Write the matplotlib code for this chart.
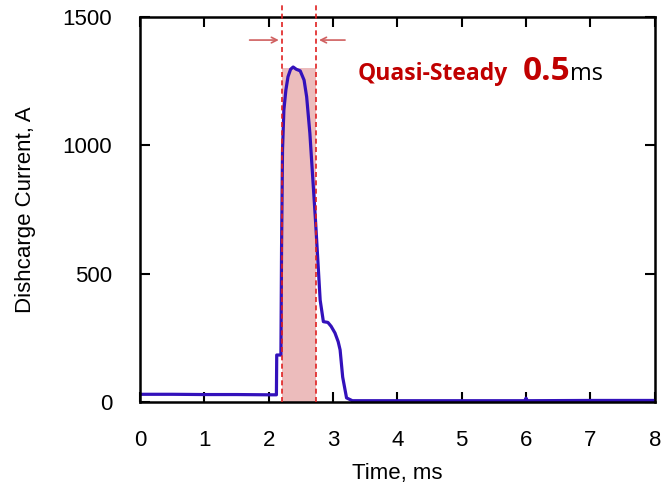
import matplotlib.pyplot as plt
import numpy as np

plt.rcParams['font.family'] = ['Liberation Sans', 'DejaVu Sans']

# discharge current trace
t = [0.0, 0.5, 1.0, 1.5, 2.0, 2.12, 2.125, 2.19, 2.20, 2.215, 2.236, 2.267, 2.30,
     2.34, 2.38, 2.43, 2.49, 2.55, 2.59, 2.64, 2.69, 2.73, 2.77, 2.80, 2.85,
     2.92, 2.97, 3.03, 3.08, 3.11, 3.15, 3.21,
     3.3, 4.0, 5.0, 5.98, 6.0, 6.02, 7.0, 8.0]
current = [30, 30, 29, 29, 28, 28, 183, 183, 600, 982, 1137, 1215, 1267,
           1296, 1305, 1296, 1290, 1254, 1189, 1047, 853, 697, 526, 397, 313,
           310, 295, 269, 235, 203, 97, 16,
           5, 5, 5, 5, 15, 5, 6, 6]

# quasi-steady window
qs_start, qs_end = 2.2, 2.74
qs_top = 1300

fig = plt.figure(figsize=(6.62, 4.93), dpi=100)
ax = fig.add_axes([0.2115, 0.1846, 0.7775, 0.781])

ax.fill_between([qs_start, qs_end], 0, qs_top, color='#ecbcbc', lw=0, zorder=1)
for xv in (qs_start, qs_end):
    ax.plot([xv, xv], [0, 1545], color='#e02020', ls=(0, (3, 2)), lw=1.2,
            clip_on=False, zorder=3)

ax.plot(t, current, color='#3311bb', lw=2.3, zorder=2, solid_joinstyle='round')

ax.annotate('', xy=(qs_start, 1410), xytext=(1.66, 1410),
            arrowprops=dict(arrowstyle='->', color='#d06060', lw=1.2))
ax.annotate('', xy=(qs_end, 1410), xytext=(3.23, 1410),
            arrowprops=dict(arrowstyle='->', color='#d06060', lw=1.2))

fam = ['Open Sans', 'DejaVu Sans']
ax.text(3.385, 1254, 'Quasi-Steady', color='#c00000', fontsize=16.5,
        fontweight='bold', family=fam, va='baseline')
ax.text(5.95, 1254, '0.5', color='#c00000', fontsize=24, fontweight='bold',
        family=fam, va='baseline')
ax.text(6.68, 1254, 'ms', color='black', fontsize=17, family=fam, va='baseline')

ax.set_xlim(0, 8)
ax.set_ylim(0, 1500)
ax.set_xticks(np.arange(0, 9, 1))
ax.set_yticks([0, 500, 1000, 1500])
ax.tick_params(direction='in', length=7, width=1.5, top=True, right=True,
               labelsize=16, pad=20)
for s in ax.spines.values():
    s.set_linewidth(1.8)

ax.set_xlabel('Time, ms', fontsize=16, labelpad=9)
ax.set_ylabel('Dishcarge Current, A', fontsize=16, labelpad=19)

fig.savefig('out.png', dpi=100)
